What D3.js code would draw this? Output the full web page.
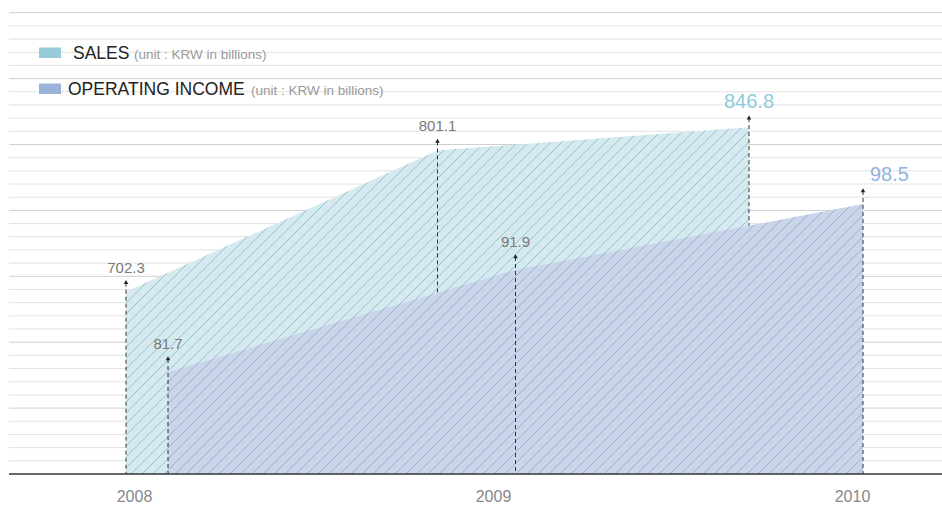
<!DOCTYPE html>
<html>
<head>
<meta charset="utf-8">
<script src="https://cdn.jsdelivr.net/npm/d3@7"></script>
<style>
  body { margin: 0; background: #fff; }
  text { font-family: "Liberation Sans", Arial, sans-serif; }
</style>
</head>
<body>
<div id="chart"></div>
<script>
// Data
var years = [2008, 2009, 2010];
var sales = [702.3, 801.1, 846.8];
var operatingIncome = [81.7, 91.9, 98.5];
var legendNames = ["SALES", "OPERATING INCOME"];
var unitLabel = "(unit : KRW in billions)";

// SVG area
var svgWidth = 942;
var svgHeight = 505;
var baseY = 474;

var svg = d3.select("#chart")
  .append("svg")
  .attr("width", svgWidth)
  .attr("height", svgHeight);

// Hatch patterns
var defs = svg.append("defs");
function hatch(id, bg, stroke) {
  var p = defs.append("pattern")
    .attr("id", id)
    .attr("patternUnits", "userSpaceOnUse")
    .attr("width", 11)
    .attr("height", 11);
  p.append("rect").attr("width", 11).attr("height", 11).attr("fill", bg);
  p.append("path")
    .attr("d", "M0,11 L11,0 M-2,2 L2,-2 M9,13 L13,9")
    .attr("stroke", stroke)
    .attr("stroke-width", 1);
}
hatch("hatchSales", "#d6e9ef", "#8cc5d4");
hatch("hatchOI", "#cbd5e9", "#97aed5");

// Background grid lines
var gridStep = (baseY - 12.7) / 35;
svg.append("g")
  .selectAll("line")
  .data(d3.range(1, 36))
  .enter()
  .append("line")
  .attr("x1", 9)
  .attr("x2", svgWidth)
  .attr("y1", d => baseY - d * gridStep)
  .attr("y2", d => baseY - d * gridStep)
  .attr("stroke", d => d % 5 === 0 ? "#cfcfcf" : "#e2e2e2")
  .attr("stroke-width", 1);

// Scales
var xSales = d3.scaleLinear().domain([2008, 2010]).range([126, 749]);
var xOI = d3.scaleLinear().domain([2008, 2010]).range([168, 863]);
var xAxisScale = d3.scaleLinear().domain([2008, 2010]).range([134, 852]);

var ySales = d3.scaleLinear().domain([700, 800, 850]).range([295, 151, 125.5]);
var yOI = d3.scaleLinear().domain([80, 100]).range([389, 189]);

function drawSeries(values, xs, ys, fillId, markGap, labelColor, lastColor, lastAnchor) {
  var pts = values.map((v, i) => ({ year: years[i], value: v, i: i }));

  var area = d3.area()
    .x(d => xs(d.year))
    .y0(baseY)
    .y1(d => ys(d.value));

  svg.append("path")
    .datum(pts)
    .attr("d", area)
    .attr("fill", "url(#" + fillId + ")");

  // dashed drop lines
  svg.append("g")
    .selectAll("line")
    .data(pts)
    .enter()
    .append("line")
    .attr("x1", d => xs(d.year))
    .attr("x2", d => xs(d.year))
    .attr("y1", d => ys(d.value) - markGap)
    .attr("y2", baseY)
    .attr("stroke", "#333")
    .attr("stroke-width", 1)
    .attr("stroke-dasharray", "4,3");

  // small arrow heads
  svg.append("g")
    .selectAll("path")
    .data(pts)
    .enter()
    .append("path")
    .attr("d", d3.symbol().type(d3.symbolTriangle).size(9))
    .attr("transform", d => `translate(${xs(d.year)}, ${ys(d.value) - markGap})`)
    .attr("fill", "#222");

  // value labels
  svg.append("g")
    .selectAll("text")
    .data(pts)
    .enter()
    .append("text")
    .attr("x", d => d.i === 2 && lastAnchor === "start" ? xs(d.year) + 7 : xs(d.year))
    .attr("y", d => ys(d.value) - markGap - 10)
    .attr("text-anchor", d => d.i === 2 ? lastAnchor : "middle")
    .attr("font-size", d => d.i === 2 ? "20px" : "15px")
    .attr("fill", d => d.i === 2 ? lastColor : labelColor)
    .text(d => d.value.toFixed(1));
}

drawSeries(sales, xSales, ySales, "hatchSales", 9, "#7a7a7a", "#8ecbdc", "middle");
drawSeries(operatingIncome, xOI, yOI, "hatchOI", 13, "#7a7a7a", "#93b2dc", "start");

// Baseline
svg.append("line")
  .attr("x1", 9)
  .attr("x2", svgWidth)
  .attr("y1", baseY)
  .attr("y2", baseY)
  .attr("stroke", "#333")
  .attr("stroke-width", 1.3);

// Year axis
var xAxis = d3.axisBottom(xAxisScale)
  .tickValues(years)
  .tickFormat(d3.format("d"))
  .tickSize(0)
  .tickPadding(0);

var axisG = svg.append("g")
  .attr("transform", `translate(0, ${baseY})`)
  .call(xAxis);
axisG.select(".domain").remove();
axisG.selectAll("text")
  .attr("y", 28)
  .attr("dy", 0)
  .attr("font-size", "16px")
  .attr("font-family", "Liberation Sans, Arial, sans-serif")
  .attr("fill", "#888");

// Legend
var legendColors = ["#96cbd7", "#9ab3d8"];
var legendRows = [
  { swatchY: 47.5, textX: 73, baseline: 59, unitX: 134 },
  { swatchY: 83.5, textX: 68, baseline: 95, unitX: 251 }
];
legendNames.forEach(function(name, i) {
  var r = legendRows[i];
  svg.append("rect")
    .attr("x", 39)
    .attr("y", r.swatchY)
    .attr("width", 22)
    .attr("height", 10.5)
    .attr("fill", legendColors[i]);
  svg.append("text")
    .attr("x", r.textX)
    .attr("y", r.baseline)
    .attr("font-size", "17.5px")
    .attr("fill", "#222")
    .text(name);
  svg.append("text")
    .attr("x", r.unitX)
    .attr("y", r.baseline)
    .attr("font-size", "13.5px")
    .attr("fill", "#999")
    .text(unitLabel);
});
</script>
</body>
</html>
